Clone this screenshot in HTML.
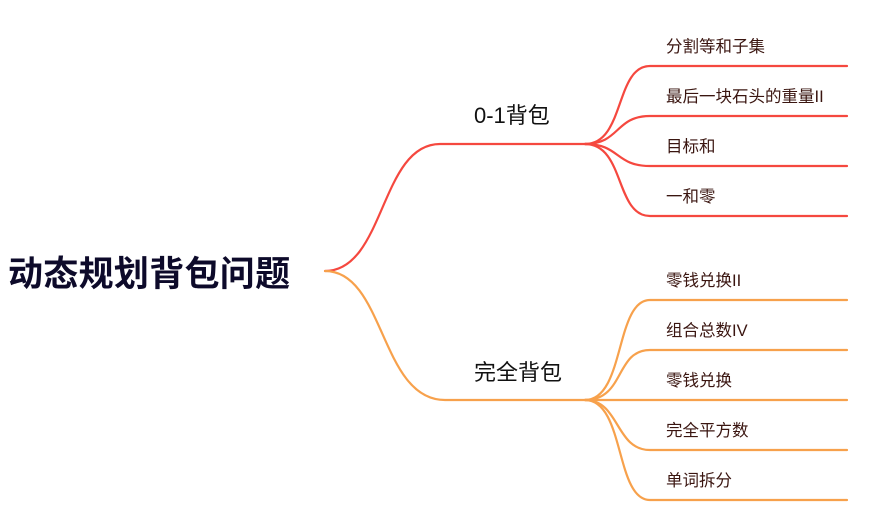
<!DOCTYPE html>
<html><head><meta charset="utf-8"><style>
html,body{margin:0;padding:0;background:#fff;width:874px;height:531px;overflow:hidden}
svg{display:block}
text{font-family:"Liberation Sans","Noto Sans CJK SC",sans-serif}
</style></head><body>
<svg width="874" height="531" viewBox="0 0 874 531">
<g fill="none" stroke-width="2.2" stroke-linecap="round">
<g stroke="#f5483f">
<path d="M325,271 C385,271 380,144 440,144 L590,144"/>
<path d="M585,144 C625,144 615,66 650,66 L847,66"/>
<path d="M585,144 C620,144 615,116 650,116 L847,116"/>
<path d="M585,144 C620,144 615,166 650,166 L847,166"/>
<path d="M585,144 C625,144 615,216 650,216 L847,216"/>
</g>
<g stroke="#f7a14c">
<path d="M325,271 C385,271 380,400 445,400 L590,400"/>
<path d="M585,400 C625,400 615,300 650,300 L847,300"/>
<path d="M585,400 C625,400 615,350 650,350 L847,350"/>
<path d="M585,400 L847,400"/>
<path d="M585,400 C620,400 615,450 650,450 L847,450"/>
<path d="M585,400 C625,400 615,500 650,500 L847,500"/>
</g>
</g>
<text x="8" y="286" font-size="35" font-weight="bold" fill="#0d0a2a" letter-spacing="0.3">动态规划背包问题</text>
<text x="474" y="123" font-size="22" fill="#111">0-1背包</text>
<text x="474" y="380" font-size="22" fill="#111">完全背包</text>
<g font-size="16.5" fill="#3a1510">
<text x="666" y="52">分割等和子集</text>
<text x="666" y="102">最后一块石头的重量II</text>
<text x="666" y="152">目标和</text>
<text x="666" y="202">一和零</text>
<text x="666" y="286">零钱兑换II</text>
<text x="666" y="336">组合总数IV</text>
<text x="666" y="386">零钱兑换</text>
<text x="666" y="436">完全平方数</text>
<text x="666" y="486">单词拆分</text>
</g>
</svg>
</body></html>
